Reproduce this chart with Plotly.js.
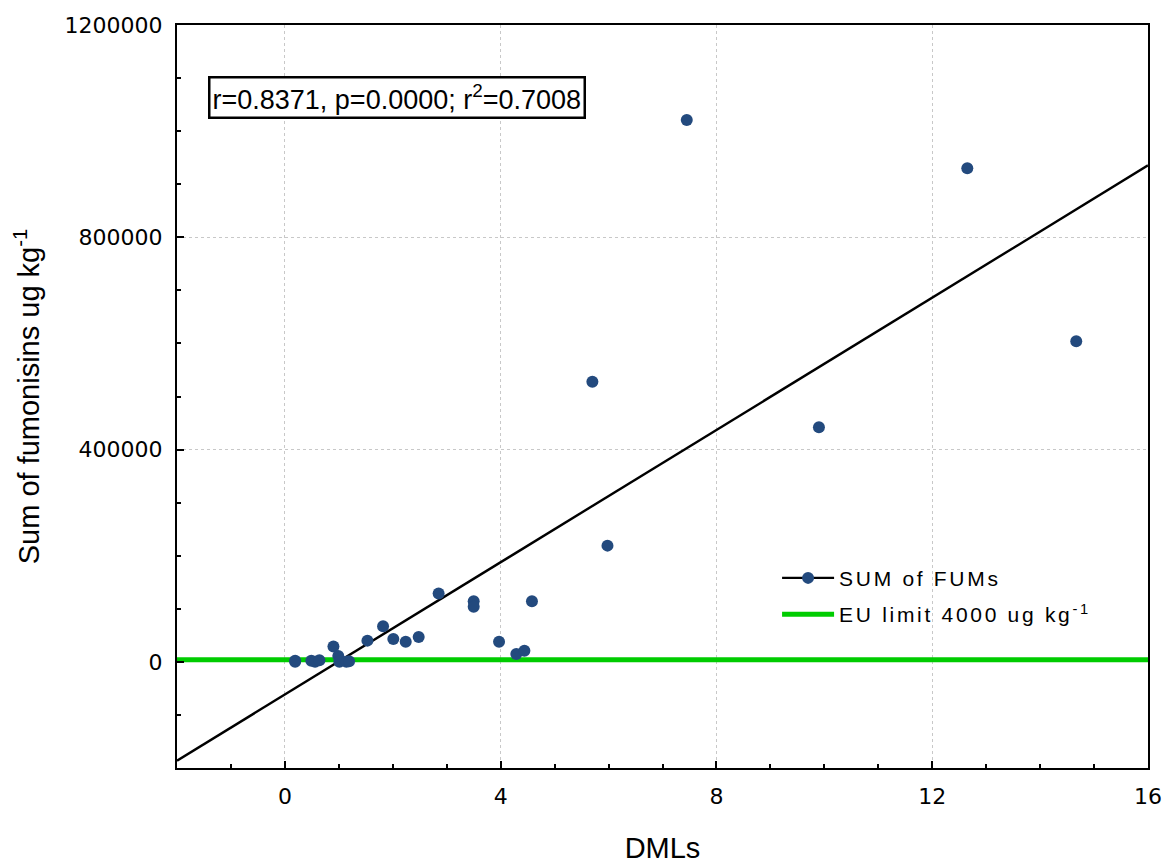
<!DOCTYPE html>
<html>
<head>
<meta charset="utf-8">
<script src="https://cdn.plot.ly/plotly-3.0.1.min.js"></script>
<style>
html,body{margin:0;padding:0;background:#fff;}
#chart{width:1173px;height:864px;}
.legendtext{letter-spacing:2.7px;}
</style>
</head>
<body>
<div id="chart"></div>
<script>
// DMLs (x) and sum of fumonisins in ug/kg (y)
const dmls = [0.19, 0.19, 0.49, 0.56, 0.64, 0.90, 0.99, 1.01, 1.14, 1.19,
              1.53, 1.82, 2.01, 2.24, 2.48, 2.85, 3.50, 3.50, 3.97, 4.29,
              4.44, 4.58, 5.70, 5.98, 7.45, 9.90, 12.65, 14.67];
const fumonisins = [2000, 0, 2000, 0, 3000, 29000, 11000, 0, 0, 1000,
                    40000, 67000, 43000, 38000, 47000, 129000, 114000, 104000, 38000, 15000,
                    21000, 114000, 528000, 219000, 1021000, 442000, 930000, 604000];
const euLimit = 4000;
const xRange = [-2, 16];
const yRange = [-200000, 1200000];
const xTicks = [0, 4, 8, 12, 16];
const yTicks = [0, 400000, 800000, 1200000];
const statsText = 'r=0.8371, p=0.0000; r<sup>2</sup>=0.7008';
const seriesName = 'SUM of FUMs';
const limitName = 'EU limit 4000 ug kg<sup>-1</sup>';

// least-squares fit computed from the data
const n = dmls.length;
const mx = dmls.reduce((a, b) => a + b, 0) / n;
const my = fumonisins.reduce((a, b) => a + b, 0) / n;
let sxy = 0, sxx = 0;
for (let i = 0; i < n; i++) { sxy += (dmls[i] - mx) * (fumonisins[i] - my); sxx += (dmls[i] - mx) ** 2; }
const slope = sxy / sxx;
const intercept = my - slope * mx;
const fitY = xRange.map(x => intercept + slope * x);

const markerColor = '#234a7e';
const traces = [
  { x: xRange, y: [euLimit, euLimit], mode: 'lines', name: limitName,
    line: { color: '#00cc00', width: 5 }, showlegend: false, hoverinfo: 'skip' },
  { x: xRange, y: fitY, mode: 'lines', line: { color: '#000', width: 2.4 },
    showlegend: false, hoverinfo: 'skip' },
  { x: dmls, y: fumonisins, mode: 'markers', showlegend: false,
    marker: { color: markerColor, size: 12 } },
  // legend entries
  { x: [null], y: [null], mode: 'lines+markers', name: seriesName, legendgroup: 'a',
    line: { color: '#000', width: 2.4 }, marker: { color: markerColor, size: 12 } },
  { x: [null], y: [null], mode: 'lines', name: limitName, legendgroup: 'b',
    line: { color: '#00cc00', width: 5 } }
];

const baseFont = 'Liberation Sans, Arial, sans-serif';
const tickFont = { family: 'DejaVu Sans, sans-serif', size: 22, color: '#000' };

const layout = {
  width: 1173, height: 864,
  margin: { l: 177, r: 25, t: 25, b: 96 },
  paper_bgcolor: '#fff', plot_bgcolor: '#fff',
  font: { family: baseFont, color: '#000' },
  showlegend: true,
  legend: {
    x: 0.618, y: 0.283, xanchor: 'left', yanchor: 'top',
    bgcolor: 'rgba(0,0,0,0)', borderwidth: 0,
    font: { family: 'Liberation Sans, Arial, sans-serif', size: 21, color: '#000' },
    itemwidth: 52, traceorder: 'grouped', tracegroupgap: 6
  },
  xaxis: {
    range: xRange, tickvals: xTicks, ticktext: xTicks.map(String),
    showline: true, linecolor: '#000', linewidth: 2, mirror: true,
    ticks: 'inside', ticklen: 7, tickwidth: 2, tickcolor: '#000',
    minor: { dtick: 1, ticks: 'inside', ticklen: 4, tickwidth: 2, tickcolor: '#000', showgrid: false },
    showgrid: true, gridcolor: '#c8c8c8', griddash: 'dot', gridwidth: 1,
    zeroline: false, tickfont: tickFont, ticklabelstandoff: 8,
    title: { text: 'DMLs', font: { family: baseFont, size: 29, color: '#000' }, standoff: 35 },
    automargin: false
  },
  yaxis: {
    range: yRange, tickvals: yTicks, ticktext: yTicks.map(String),
    showline: true, linecolor: '#000', linewidth: 2, mirror: true,
    ticks: 'inside', ticklen: 7, tickwidth: 2, tickcolor: '#000',
    minor: { dtick: 100000, tick0: 0, ticks: 'inside', ticklen: 4, tickwidth: 2, tickcolor: '#000', showgrid: false },
    showgrid: true, gridcolor: '#c8c8c8', griddash: 'dot', gridwidth: 1,
    zeroline: false, tickfont: tickFont, ticklabelstandoff: 8,
    title: { text: 'Sum of fumonisins ug kg<sup>-1</sup>', font: { family: baseFont, size: 29, color: '#000' }, standoff: 16 },
    automargin: false
  },
  annotations: [{
    xref: 'paper', yref: 'paper', x: 0.2266, y: 0.9018, xanchor: 'center', yanchor: 'middle',
    text: statsText, showarrow: false,
    font: { family: baseFont, size: 27, color: '#000' },
    bordercolor: '#000', borderwidth: 2.5, borderpad: 2, bgcolor: '#fff'
  }]
};

Plotly.newPlot('chart', traces, layout, { displayModeBar: false, staticPlot: true });
</script>
</body>
</html>
